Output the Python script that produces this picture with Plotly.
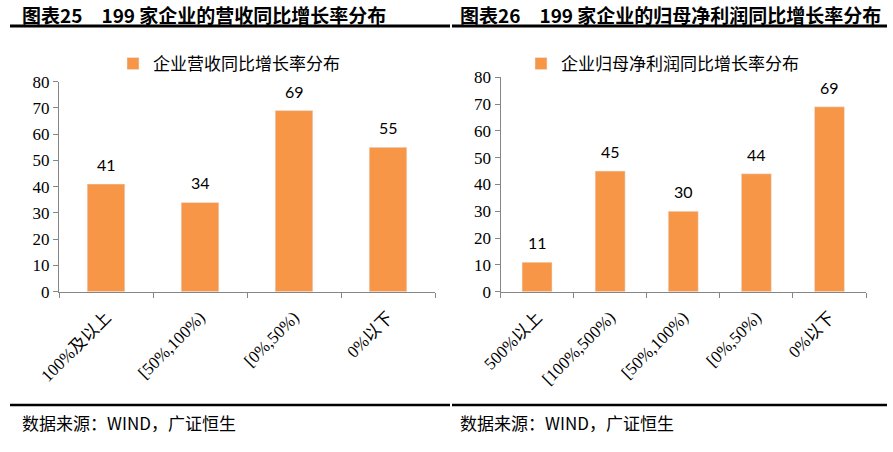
import plotly.graph_objects as go

W, H = 893, 452

title_left = "图表25　199 家企业的营收同比增长率分布"
title_right = "图表26　199 家企业的归母净利润同比增长率分布"
source_text = "数据来源：WIND，广证恒生"

cats_left = ["100%及以上", "[50%,100%)", "[0%,50%)", "0%以下"]
vals_left = [41, 34, 69, 55]
name_left = "企业营收同比增长率分布"

cats_right = ["500%以上", "[100%,500%)", "[50%,100%)", "[0%,50%)", "0%以下"]
vals_right = [11, 45, 30, 44, 69]
name_right = "企业归母净利润同比增长率分布"

y_ticks = [0, 10, 20, 30, 40, 50, 60, 70, 80]

BAR = "#F79646"
AXIS = "#868686"
SERIF = "Liberation Serif, Times New Roman, Noto Sans CJK SC, serif"
CJK = "Noto Sans CJK SC"


def px_x(v):
    return v / W


def px_y(v):
    return 1 - v / H


fig = go.Figure()
fig.add_trace(go.Bar(x=cats_left, y=vals_left, name=name_left, marker_color=BAR,
                     width=0.4, xaxis="x", yaxis="y", legend="legend"))
fig.add_trace(go.Bar(x=cats_right, y=vals_right, name=name_right, marker_color=BAR,
                     width=0.41, xaxis="x2", yaxis="y2", legend="legend2"))

annots = []
for c, v in zip(cats_left, vals_left):
    annots.append(dict(x=c, y=v, xref="x", yref="y", text=str(v), showarrow=False,
                       yanchor="bottom", yshift=8, font=dict(family="Lato, Open Sans", size=16, color="#000")))
for c, v in zip(cats_right, vals_right):
    annots.append(dict(x=c, y=v, xref="x2", yref="y2", text=str(v), showarrow=False,
                       yanchor="bottom", yshift=8, font=dict(family="Lato, Open Sans", size=16, color="#000")))

annots.append(dict(x=px_x(20), y=px_y(14), xref="paper", yref="paper", text="<b>" + title_left + "</b>",
                   showarrow=False, xanchor="left", yanchor="middle",
                   font=dict(family=CJK, size=19, color="#000")))
annots.append(dict(x=px_x(458), y=px_y(14), xref="paper", yref="paper", text="<b>" + title_right + "</b>",
                   showarrow=False, xanchor="left", yanchor="middle",
                   font=dict(family=CJK, size=19, color="#000")))
annots.append(dict(x=px_x(20), y=px_y(422), xref="paper", yref="paper", text=source_text,
                   showarrow=False, xanchor="left", yanchor="middle",
                   font=dict(family=CJK, size=17, color="#000")))
annots.append(dict(x=px_x(458), y=px_y(422), xref="paper", yref="paper", text=source_text,
                   showarrow=False, xanchor="left", yanchor="middle",
                   font=dict(family=CJK, size=17, color="#000")))

shapes = [
    dict(type="line", xref="paper", yref="paper", x0=px_x(10), x1=px_x(450), y0=px_y(26), y1=px_y(26),
         line=dict(color="#000", width=3)),
    dict(type="line", xref="paper", yref="paper", x0=px_x(452), x1=px_x(887), y0=px_y(26), y1=px_y(26),
         line=dict(color="#000", width=3)),
    dict(type="line", xref="paper", yref="paper", x0=px_x(10), x1=px_x(450), y0=px_y(405), y1=px_y(405),
         line=dict(color="#000", width=2.5)),
    dict(type="line", xref="paper", yref="paper", x0=px_x(452), x1=px_x(887), y0=px_y(405), y1=px_y(405),
         line=dict(color="#000", width=2.5)),
]

xaxis_common = dict(type="category", showline=True, linecolor=AXIS, linewidth=1, ticks="outside",
                    tickson="boundaries", ticklen=5, tickcolor=AXIS, tickangle=-45, automargin=False,
                    ticklabelstandoff=8,
                    tickfont=dict(family=SERIF, size=17, color="#000"), showgrid=False, zeroline=False,
                    fixedrange=True)
yaxis_common = dict(range=[0, 80], tickvals=y_ticks, showline=True, linecolor=AXIS, linewidth=1,
                    ticks="outside", ticklen=5, tickcolor=AXIS, showgrid=False, zeroline=False,
                    automargin=False,
                    tickfont=dict(family=SERIF, size=17, color="#000"), fixedrange=True)

fig.update_layout(
    width=W, height=H, margin=dict(l=0, r=0, t=0, b=0, autoexpand=False),
    paper_bgcolor="white", plot_bgcolor="white",
    showlegend=True, bargap=0.6,
    xaxis=dict(domain=[px_x(59), px_x(435)], anchor="y", **xaxis_common),
    yaxis=dict(domain=[px_y(291.7), px_y(81.7)], anchor="x", **yaxis_common),
    xaxis2=dict(domain=[px_x(500.5), px_x(866)], anchor="y2", **xaxis_common),
    yaxis2=dict(domain=[px_y(291.7), px_y(77.3)], anchor="x2", **yaxis_common),
    legend=dict(x=px_x(113), y=px_y(64), xanchor="left", yanchor="middle", orientation="h",
                font=dict(family=CJK, size=17, color="#000"), itemwidth=30, bgcolor="rgba(0,0,0,0)"),
    legend2=dict(x=px_x(521), y=px_y(64), xanchor="left", yanchor="middle", orientation="h",
                 font=dict(family=CJK, size=17, color="#000"), itemwidth=30, bgcolor="rgba(0,0,0,0)"),
    annotations=annots,
    shapes=shapes,
)

fig.write_html("out.html")
